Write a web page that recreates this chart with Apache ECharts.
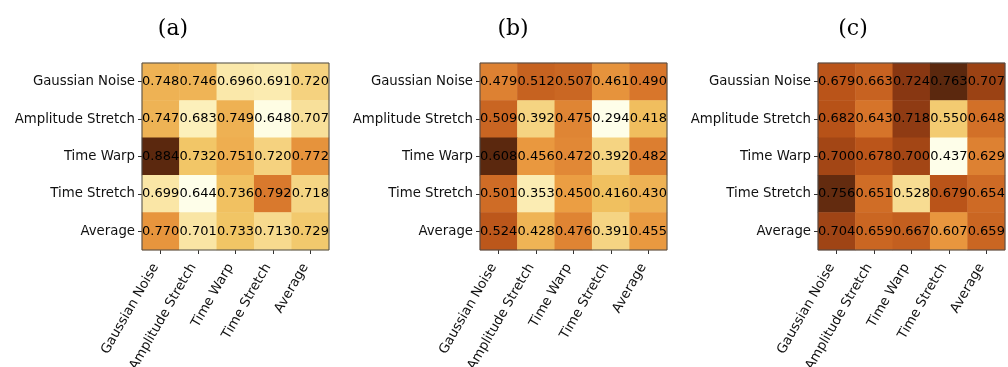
<!DOCTYPE html>
<html>
<head>
<meta charset="utf-8">
<script src="https://cdn.jsdelivr.net/npm/echarts@6/dist/echarts.min.js"></script>
<style>
  html, body { margin: 0; padding: 0; background: #fff; }
  #chart { width: 1008px; height: 367px; }
</style>
</head>
<body>
<div id="chart"></div>
<script>
// Augmentation categories shared by rows (train) and columns (test)
const categories = ['Gaussian Noise', 'Amplitude Stretch', 'Time Warp', 'Time Stretch', 'Average'];
const panelTitles = ['(a)', '(b)', '(c)'];

// Cell values, one row per y category, top to bottom
const valuesA = [
  [0.748, 0.746, 0.696, 0.691, 0.720],
  [0.747, 0.683, 0.749, 0.648, 0.707],
  [0.884, 0.732, 0.751, 0.720, 0.772],
  [0.699, 0.644, 0.736, 0.792, 0.718],
  [0.770, 0.701, 0.733, 0.713, 0.729]
];
const valuesB = [
  [0.479, 0.512, 0.507, 0.461, 0.490],
  [0.509, 0.392, 0.475, 0.294, 0.418],
  [0.608, 0.456, 0.472, 0.392, 0.482],
  [0.501, 0.353, 0.450, 0.416, 0.430],
  [0.524, 0.428, 0.476, 0.391, 0.455]
];
const valuesC = [
  [0.679, 0.663, 0.724, 0.763, 0.707],
  [0.682, 0.643, 0.718, 0.550, 0.648],
  [0.700, 0.678, 0.700, 0.437, 0.629],
  [0.756, 0.651, 0.528, 0.679, 0.654],
  [0.704, 0.659, 0.667, 0.607, 0.659]
];

// Slightly muted yellow-orange-brown ramp
const ramp = ['#fefee9', '#fdf6c6', '#f9e3a0', '#f1c463', '#eb9d42', '#d8762b', '#b85218', '#8a3812', '#5b280e'];

const panels = [valuesA, valuesB, valuesC];
const gridLefts = [142, 480, 818];
const titleCenters = [168, 508, 848];
const gridTop = 63;
const cellBlock = 187;

const chart = echarts.init(document.getElementById('chart'), null, { renderer: 'canvas' });

const grids = [], xAxes = [], yAxes = [], series = [], visualMaps = [], titles = [];

panels.forEach((rows, p) => {
  const data = [];
  let lo = Infinity, hi = -Infinity;
  rows.forEach((row, r) => row.forEach((v, c) => {
    data.push([c, r, v]);
    lo = Math.min(lo, v); hi = Math.max(hi, v);
  }));

  grids.push({
    left: gridLefts[p], top: gridTop, width: cellBlock, height: cellBlock,
    containLabel: false, outerBoundsMode: 'none',
    show: true, borderColor: '#4a4a4a', borderWidth: 1, backgroundColor: 'transparent', z: 10
  });
  xAxes.push({
    type: 'category', gridIndex: p, data: categories, position: 'bottom',
    axisLine: { show: false },
    axisTick: { show: true, alignWithLabel: true, length: 4, lineStyle: { color: '#333' } },
    axisLabel: {
      rotate: 60, margin: 6, padding: [0, 10, 0, 0],
      fontFamily: 'DejaVu Sans', fontSize: 13.3, color: '#111'
    },
    splitLine: { show: false }
  });
  yAxes.push({
    type: 'category', gridIndex: p, data: categories, inverse: true,
    axisLine: { show: false },
    axisTick: { show: true, alignWithLabel: true, length: 4, lineStyle: { color: '#333' } },
    axisLabel: { margin: 7, fontFamily: 'DejaVu Sans', fontSize: 13.3, color: '#111' },
    splitLine: { show: false }
  });
  visualMaps.push({
    type: 'continuous', show: false, seriesIndex: p, dimension: 2,
    min: lo, max: hi, inRange: { color: ramp }
  });
  series.push({
    type: 'heatmap', xAxisIndex: p, yAxisIndex: p, data: data,
    label: {
      show: true, fontFamily: 'DejaVu Sans', fontSize: 13, color: '#000',
      formatter: (d) => d.value[2].toFixed(3)
    },
    itemStyle: { borderWidth: 0 },
    emphasis: { disabled: true }
  });
  titles.push({
    text: panelTitles[p], left: titleCenters[p], top: 13, textAlign: 'center',
    textStyle: { fontFamily: 'DejaVu Serif', fontSize: 22, fontWeight: 'normal', color: '#000' }
  });
});

chart.setOption({
  animation: false,
  backgroundColor: '#fff',
  title: titles,
  grid: grids,
  xAxis: xAxes,
  yAxis: yAxes,
  visualMap: visualMaps,
  series: series
});
</script>
</body>
</html>
